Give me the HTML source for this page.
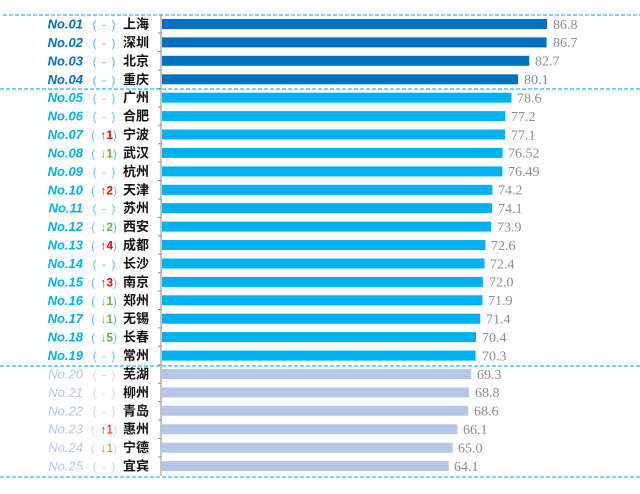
<!DOCTYPE html>
<html><head><meta charset="utf-8"><style>
body{margin:0;background:#fff}
svg{display:block}
.n{font:italic bold 13px "Liberation Sans","Noto Sans CJK SC",sans-serif;text-anchor:end}
.p{font:12px "Liberation Sans","Noto Sans CJK SC",sans-serif;text-anchor:middle;word-spacing:2px}
.c{font:bold 13px "Liberation Sans","Noto Sans CJK SC",sans-serif;fill:#111}
.v{font:14px "Liberation Serif","DejaVu Serif",serif;fill:#8c8c8c}
</style></head><body>
<svg width="640" height="494" xmlns="http://www.w3.org/2000/svg">
<g stroke="#2fb4ee" stroke-width="1.3" stroke-dasharray="4,2">
<line x1="3" y1="15" x2="640" y2="15"/><line x1="0" y1="89" x2="640" y2="89"/>
<line x1="0" y1="366" x2="640" y2="366"/><line x1="0" y1="477" x2="640" y2="477"/>
</g>
<line x1="161" y1="15" x2="161" y2="476" stroke="#888" stroke-width="1"/>
<g stroke="#888"><line x1="158" y1="33" x2="161" y2="33"/><line x1="158" y1="51.5" x2="161" y2="51.5"/><line x1="158" y1="70" x2="161" y2="70"/><line x1="158" y1="88.5" x2="161" y2="88.5"/><line x1="158" y1="107" x2="161" y2="107"/><line x1="158" y1="125.3" x2="161" y2="125.3"/><line x1="158" y1="143.7" x2="161" y2="143.7"/><line x1="158" y1="162.1" x2="161" y2="162.1"/><line x1="158" y1="180.5" x2="161" y2="180.5"/><line x1="158" y1="199" x2="161" y2="199"/><line x1="158" y1="217.4" x2="161" y2="217.4"/><line x1="158" y1="235.8" x2="161" y2="235.8"/><line x1="158" y1="254.2" x2="161" y2="254.2"/><line x1="158" y1="272.7" x2="161" y2="272.7"/><line x1="158" y1="291.1" x2="161" y2="291.1"/><line x1="158" y1="309.5" x2="161" y2="309.5"/><line x1="158" y1="327.9" x2="161" y2="327.9"/><line x1="158" y1="346.4" x2="161" y2="346.4"/><line x1="158" y1="364.8" x2="161" y2="364.8"/><line x1="158" y1="383.2" x2="161" y2="383.2"/><line x1="158" y1="401.6" x2="161" y2="401.6"/><line x1="158" y1="420" x2="161" y2="420"/><line x1="158" y1="438.5" x2="161" y2="438.5"/><line x1="158" y1="456.9" x2="161" y2="456.9"/></g>
<g>
<g fill="#0070c0"><rect x="162" y="19" width="385" height="10"/><rect x="162" y="37.4" width="384.6" height="10"/><rect x="162" y="55.8" width="367.2" height="10"/><rect x="162" y="74.3" width="356" height="10"/></g>
<g fill="#00b0f0">
<rect x="162" y="92.7" width="349.5" height="10"/><rect x="162" y="111.1" width="343.4" height="10"/><rect x="162" y="129.5" width="343" height="10"/><rect x="162" y="147.9" width="340.5" height="10"/><rect x="162" y="166.4" width="340.4" height="10"/><rect x="162" y="184.8" width="330.4" height="10"/><rect x="162" y="203.2" width="330" height="10"/><rect x="162" y="221.6" width="329.1" height="10"/><rect x="162" y="240" width="323.5" height="10"/><rect x="162" y="258.5" width="322.6" height="10"/><rect x="162" y="276.9" width="320.9" height="10"/><rect x="162" y="295.3" width="320.5" height="10"/><rect x="162" y="313.7" width="318.3" height="10"/><rect x="162" y="332.1" width="314" height="10"/><rect x="162" y="350.6" width="313.6" height="10"/></g>
<g fill="#b4c7e7">
<rect x="162" y="369" width="309.2" height="10"/><rect x="162" y="387.4" width="307.1" height="10"/><rect x="162" y="405.8" width="306.2" height="10"/><rect x="162" y="424.2" width="295.4" height="10"/><rect x="162" y="442.7" width="290.6" height="10"/><rect x="162" y="461.1" width="286.7" height="10"/></g>
<text class="v" x="553" y="28.8">86.8</text><text class="v" x="553" y="47.2">86.7</text><text class="v" x="535" y="65.6">82.7</text><text class="v" x="524" y="84.1">80.1</text>
<text class="v" x="517" y="102.5">78.6</text><text class="v" x="511" y="120.9">77.2</text><text class="v" x="511" y="139.3">77.1</text><text class="v" x="508" y="157.7">76.52</text><text class="v" x="508" y="176.2">76.49</text><text class="v" x="498" y="194.6">74.2</text><text class="v" x="498" y="213">74.1</text><text class="v" x="497" y="231.4">73.9</text><text class="v" x="491" y="249.8">72.6</text><text class="v" x="490" y="268.3">72.4</text><text class="v" x="489" y="286.7">72.0</text><text class="v" x="488" y="305.1">71.9</text><text class="v" x="486" y="323.5">71.4</text><text class="v" x="482" y="341.9">70.4</text><text class="v" x="482" y="360.4">70.3</text>
<text class="v" x="477" y="378.8">69.3</text><text class="v" x="475" y="397.2">68.8</text><text class="v" x="474" y="415.6">68.6</text><text class="v" x="463" y="434">66.1</text><text class="v" x="458" y="452.5">65.0</text><text class="v" x="454" y="470.9">64.1</text>
<g class="n" fill="#0070c0"><text x="83" y="28.5">No.01</text><text x="83" y="46.9">No.02</text><text x="83" y="65.3">No.03</text><text x="83" y="83.8">No.04</text></g>
<g class="n" fill="#00b0f0"><text x="83" y="102.2">No.05</text><text x="83" y="120.6">No.06</text><text x="83" y="139">No.07</text><text x="83" y="157.4">No.08</text><text x="83" y="175.9">No.09</text><text x="83" y="194.3">No.10</text><text x="83" y="212.7">No.11</text><text x="83" y="231.1">No.12</text><text x="83" y="249.5">No.13</text><text x="83" y="268">No.14</text><text x="83" y="286.4">No.15</text><text x="83" y="304.8">No.16</text><text x="83" y="323.2">No.17</text><text x="83" y="341.6">No.18</text><text x="83" y="360.1">No.19</text></g>
<g class="n" fill="#b4c7e7" style="font-weight:normal"><text x="83" y="378.5">No.20</text><text x="83" y="396.9">No.21</text><text x="83" y="415.3">No.22</text><text x="83" y="433.7">No.23</text><text x="83" y="452.2">No.24</text><text x="83" y="470.6">No.25</text></g>
<g class="p">
<text x="104" y="28.5" fill="#5aaee8">( - )</text><text x="104" y="46.9" fill="#5aaee8">( - )</text><text x="104" y="65.3" fill="#5aaee8">( - )</text><text x="104" y="83.8" fill="#5aaee8">( - )</text>
<text x="104" y="102.2" fill="#5ac0f0">( - )</text><text x="104" y="120.6" fill="#5ac0f0">( - )</text>
<text x="104" y="139" fill="#5ac0f0">( <tspan fill="#ff0000" font-weight="bold">↑1</tspan>)</text>
<text x="104" y="157.4" fill="#5ac0f0">( <tspan fill="#70ad47" font-weight="bold">↓1</tspan>)</text>
<text x="104" y="175.9" fill="#5ac0f0">( - )</text>
<text x="104" y="194.3" fill="#5ac0f0">( <tspan fill="#ff0000" font-weight="bold">↑2</tspan>)</text>
<text x="104" y="212.7" fill="#5ac0f0">( - )</text>
<text x="104" y="231.1" fill="#5ac0f0">( <tspan fill="#70ad47" font-weight="bold">↓2</tspan>)</text>
<text x="104" y="249.5" fill="#5ac0f0">( <tspan fill="#ff0000" font-weight="bold">↑4</tspan>)</text>
<text x="104" y="268" fill="#5ac0f0">( - )</text>
<text x="104" y="286.4" fill="#5ac0f0">( <tspan fill="#ff0000" font-weight="bold">↑3</tspan>)</text>
<text x="104" y="304.8" fill="#5ac0f0">( <tspan fill="#70ad47" font-weight="bold">↓1</tspan>)</text>
<text x="104" y="323.2" fill="#5ac0f0">( <tspan fill="#70ad47" font-weight="bold">↓1</tspan>)</text>
<text x="104" y="341.6" fill="#5ac0f0">( <tspan fill="#70ad47" font-weight="bold">↓5</tspan>)</text>
<text x="104" y="360.1" fill="#5ac0f0">( - )</text>
<text x="104" y="378.5" fill="#c5d3ee">( - )</text><text x="104" y="396.9" fill="#c5d3ee">( - )</text><text x="104" y="415.3" fill="#c5d3ee">( - )</text>
<text x="104" y="433.7" fill="#c5d3ee">( <tspan fill="#ff0000">↑1</tspan>)</text>
<text x="104" y="452.2" fill="#c5d3ee">( <tspan fill="#70ad47">↓1</tspan>)</text>
<text x="104" y="470.6" fill="#c5d3ee">( - )</text>
</g>
<g class="c">
<text x="123" y="28.5">上海</text><text x="123" y="46.9">深圳</text><text x="123" y="65.3">北京</text><text x="123" y="83.8">重庆</text><text x="123" y="102.2">广州</text><text x="123" y="120.6">合肥</text><text x="123" y="139">宁波</text><text x="123" y="157.4">武汉</text><text x="123" y="175.9">杭州</text><text x="123" y="194.3">天津</text><text x="123" y="212.7">苏州</text><text x="123" y="231.1">西安</text><text x="123" y="249.5">成都</text><text x="123" y="268">长沙</text><text x="123" y="286.4">南京</text><text x="123" y="304.8">郑州</text><text x="123" y="323.2">无锡</text><text x="123" y="341.6">长春</text><text x="123" y="360.1">常州</text><text x="123" y="378.5">芜湖</text><text x="123" y="396.9">柳州</text><text x="123" y="415.3">青岛</text><text x="123" y="433.7">惠州</text><text x="123" y="452.2">宁德</text><text x="123" y="470.6">宜宾</text>
</g>
</g>
</svg>
</body></html>
